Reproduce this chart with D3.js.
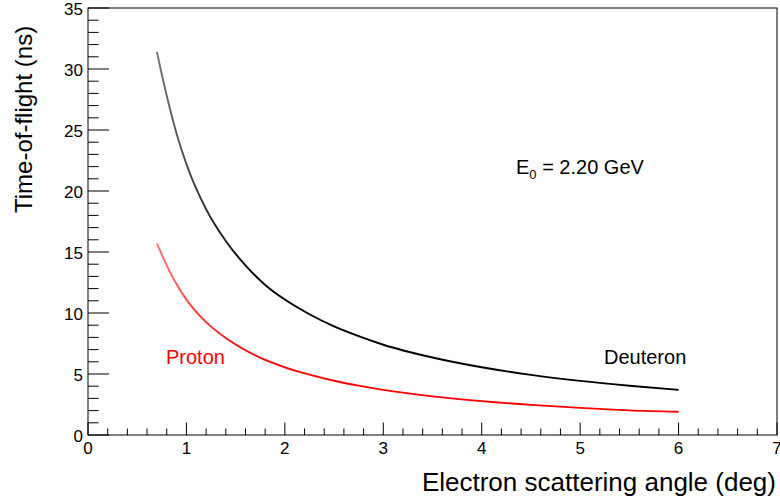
<!DOCTYPE html>
<html>
<head>
<meta charset="utf-8">
<script src="https://cdn.jsdelivr.net/npm/d3@7"></script>
<style>
  body { margin: 0; background: #fff; }
  svg text { font-family: "Liberation Sans", Arial, sans-serif; }
</style>
</head>
<body>
<div id="chart"></div>
<script>
// angles in degrees, time-of-flight in ns
var deuteronAngle = [0.70, 0.80, 0.90, 1.00, 1.20, 1.40, 1.60, 1.80, 2.00, 2.25, 2.50, 2.75, 3.00, 3.50, 4.00, 4.50, 5.00, 5.50, 6.00];
var deuteronTof   = [31.4, 27.8, 24.7, 22.2, 18.5, 15.9, 13.9, 12.3, 11.1, 9.9, 8.9, 8.1, 7.4, 6.35, 5.55, 4.93, 4.44, 4.04, 3.70];
var protonAngle   = [0.70, 0.80, 0.90, 1.00, 1.20, 1.40, 1.60, 1.80, 2.00, 2.25, 2.50, 2.75, 3.00, 3.50, 4.00, 4.50, 5.00, 5.50, 6.00];
var protonTof     = [15.7, 13.9, 12.35, 11.1, 9.25, 7.95, 6.95, 6.15, 5.55, 4.95, 4.45, 4.05, 3.70, 3.17, 2.78, 2.47, 2.22, 2.02, 1.90];
var xTicks = [0, 1, 2, 3, 4, 5, 6, 7];
var yTicks = [0, 5, 10, 15, 20, 25, 30, 35];

var width = 780, height = 499;
var margin = { top: 8, right: 3, bottom: 64, left: 88 };

var svg = d3.select("#chart").append("svg")
  .attr("width", width)
  .attr("height", height);

var x = d3.scaleLinear().domain([0, 7]).range([margin.left, width - margin.right]);
var y = d3.scaleLinear().domain([0, 35]).range([height - margin.bottom, margin.top]);

//gradients so the sparse start of each band looks lighter
function fadeGradient(id, color) {
  var g = svg.append("defs").append("linearGradient")
    .attr("id", id)
    .attr("gradientUnits", "userSpaceOnUse")
    .attr("x1", x(0.7)).attr("x2", x(1.6))
    .attr("y1", 0).attr("y2", 0);
  g.append("stop").attr("offset", 0).attr("stop-color", color).attr("stop-opacity", 0.55);
  g.append("stop").attr("offset", 1).attr("stop-color", color).attr("stop-opacity", 1);
}
fadeGradient("fadeD", "black");
fadeGradient("fadeP", "#ff0000");

//frame
svg.append("rect")
  .attr("x", x(0))
  .attr("y", y(35))
  .attr("width", x(7) - x(0))
  .attr("height", y(0) - y(35))
  .style("fill", "none")
  .style("stroke", "black")
  .style("stroke-width", 1);

//ticks
var xMinor = d3.range(0, 7.001, 0.2);
var yMinor = d3.range(0, 35.001, 1);

var gx = svg.append("g").attr("transform", "translate(0," + y(0) + ")");
gx.selectAll("line").data(xMinor).enter().append("line")
  .attr("x1", function(d) { return x(d); })
  .attr("x2", function(d) { return x(d); })
  .attr("y1", 0)
  .attr("y2", function(d) { return (Math.abs(d - Math.round(d)) < 1e-6) ? -12.5 : -6.5; })
  .style("stroke", "black");
gx.selectAll("text").data(xTicks).enter().append("text")
  .text(function(d) { return d; })
  .attr("x", function(d) { return x(d); })
  .attr("y", 19)
  .style("text-anchor", "middle")
  .style("font-size", "17px");

var gy = svg.append("g").attr("transform", "translate(" + x(0) + ",0)");
gy.selectAll("line").data(yMinor).enter().append("line")
  .attr("x1", 0)
  .attr("x2", function(d) { return (Math.round(d) % 5 == 0) ? 21 : 10.5; })
  .attr("y1", function(d) { return y(d); })
  .attr("y2", function(d) { return y(d); })
  .style("stroke", "black");
gy.selectAll("text").data(yTicks).enter().append("text")
  .text(function(d) { return d; })
  .attr("x", -5)
  .attr("y", function(d) { return y(d) + 6.5; })
  .style("text-anchor", "end")
  .style("font-size", "17px");

//curves
var line = d3.line()
  .x(function(d) { return x(d[0]); })
  .y(function(d) { return y(d[1]); })
  .curve(d3.curveMonotoneX);

svg.append("path")
  .datum(d3.zip(deuteronAngle, deuteronTof))
  .attr("d", line)
  .style("fill", "none")
  .style("stroke", "url(#fadeD)")
  .style("stroke-width", 1.9);

svg.append("path")
  .datum(d3.zip(protonAngle, protonTof))
  .attr("d", line)
  .style("fill", "none")
  .style("stroke", "url(#fadeP)")
  .style("stroke-width", 1.9);

//labels
svg.append("text")
  .text("Electron scattering angle (deg)")
  .attr("x", x(7) - 1)
  .attr("y", 491)
  .style("text-anchor", "end")
  .style("font-size", "26px");

svg.append("text")
  .text("Time-of-flight (ns)")
  .attr("transform", "translate(32," + 213 + ") rotate(-90)")
  .style("text-anchor", "start")
  .style("font-size", "24px");

var e0 = svg.append("text")
  .attr("x", 516)
  .attr("y", 174)
  .style("font-size", "20px");
e0.append("tspan").text("E");
e0.append("tspan").text("0").attr("dy", 5).style("font-size", "13px");
e0.append("tspan").text(" = 2.20 GeV").attr("dy", -5);

svg.append("text")
  .text("Proton")
  .attr("x", 166)
  .attr("y", 364)
  .style("fill", "#ff0000")
  .style("font-size", "20px");

svg.append("text")
  .text("Deuteron")
  .attr("x", 604)
  .attr("y", 364)
  .style("font-size", "20px");
</script>
</body>
</html>
